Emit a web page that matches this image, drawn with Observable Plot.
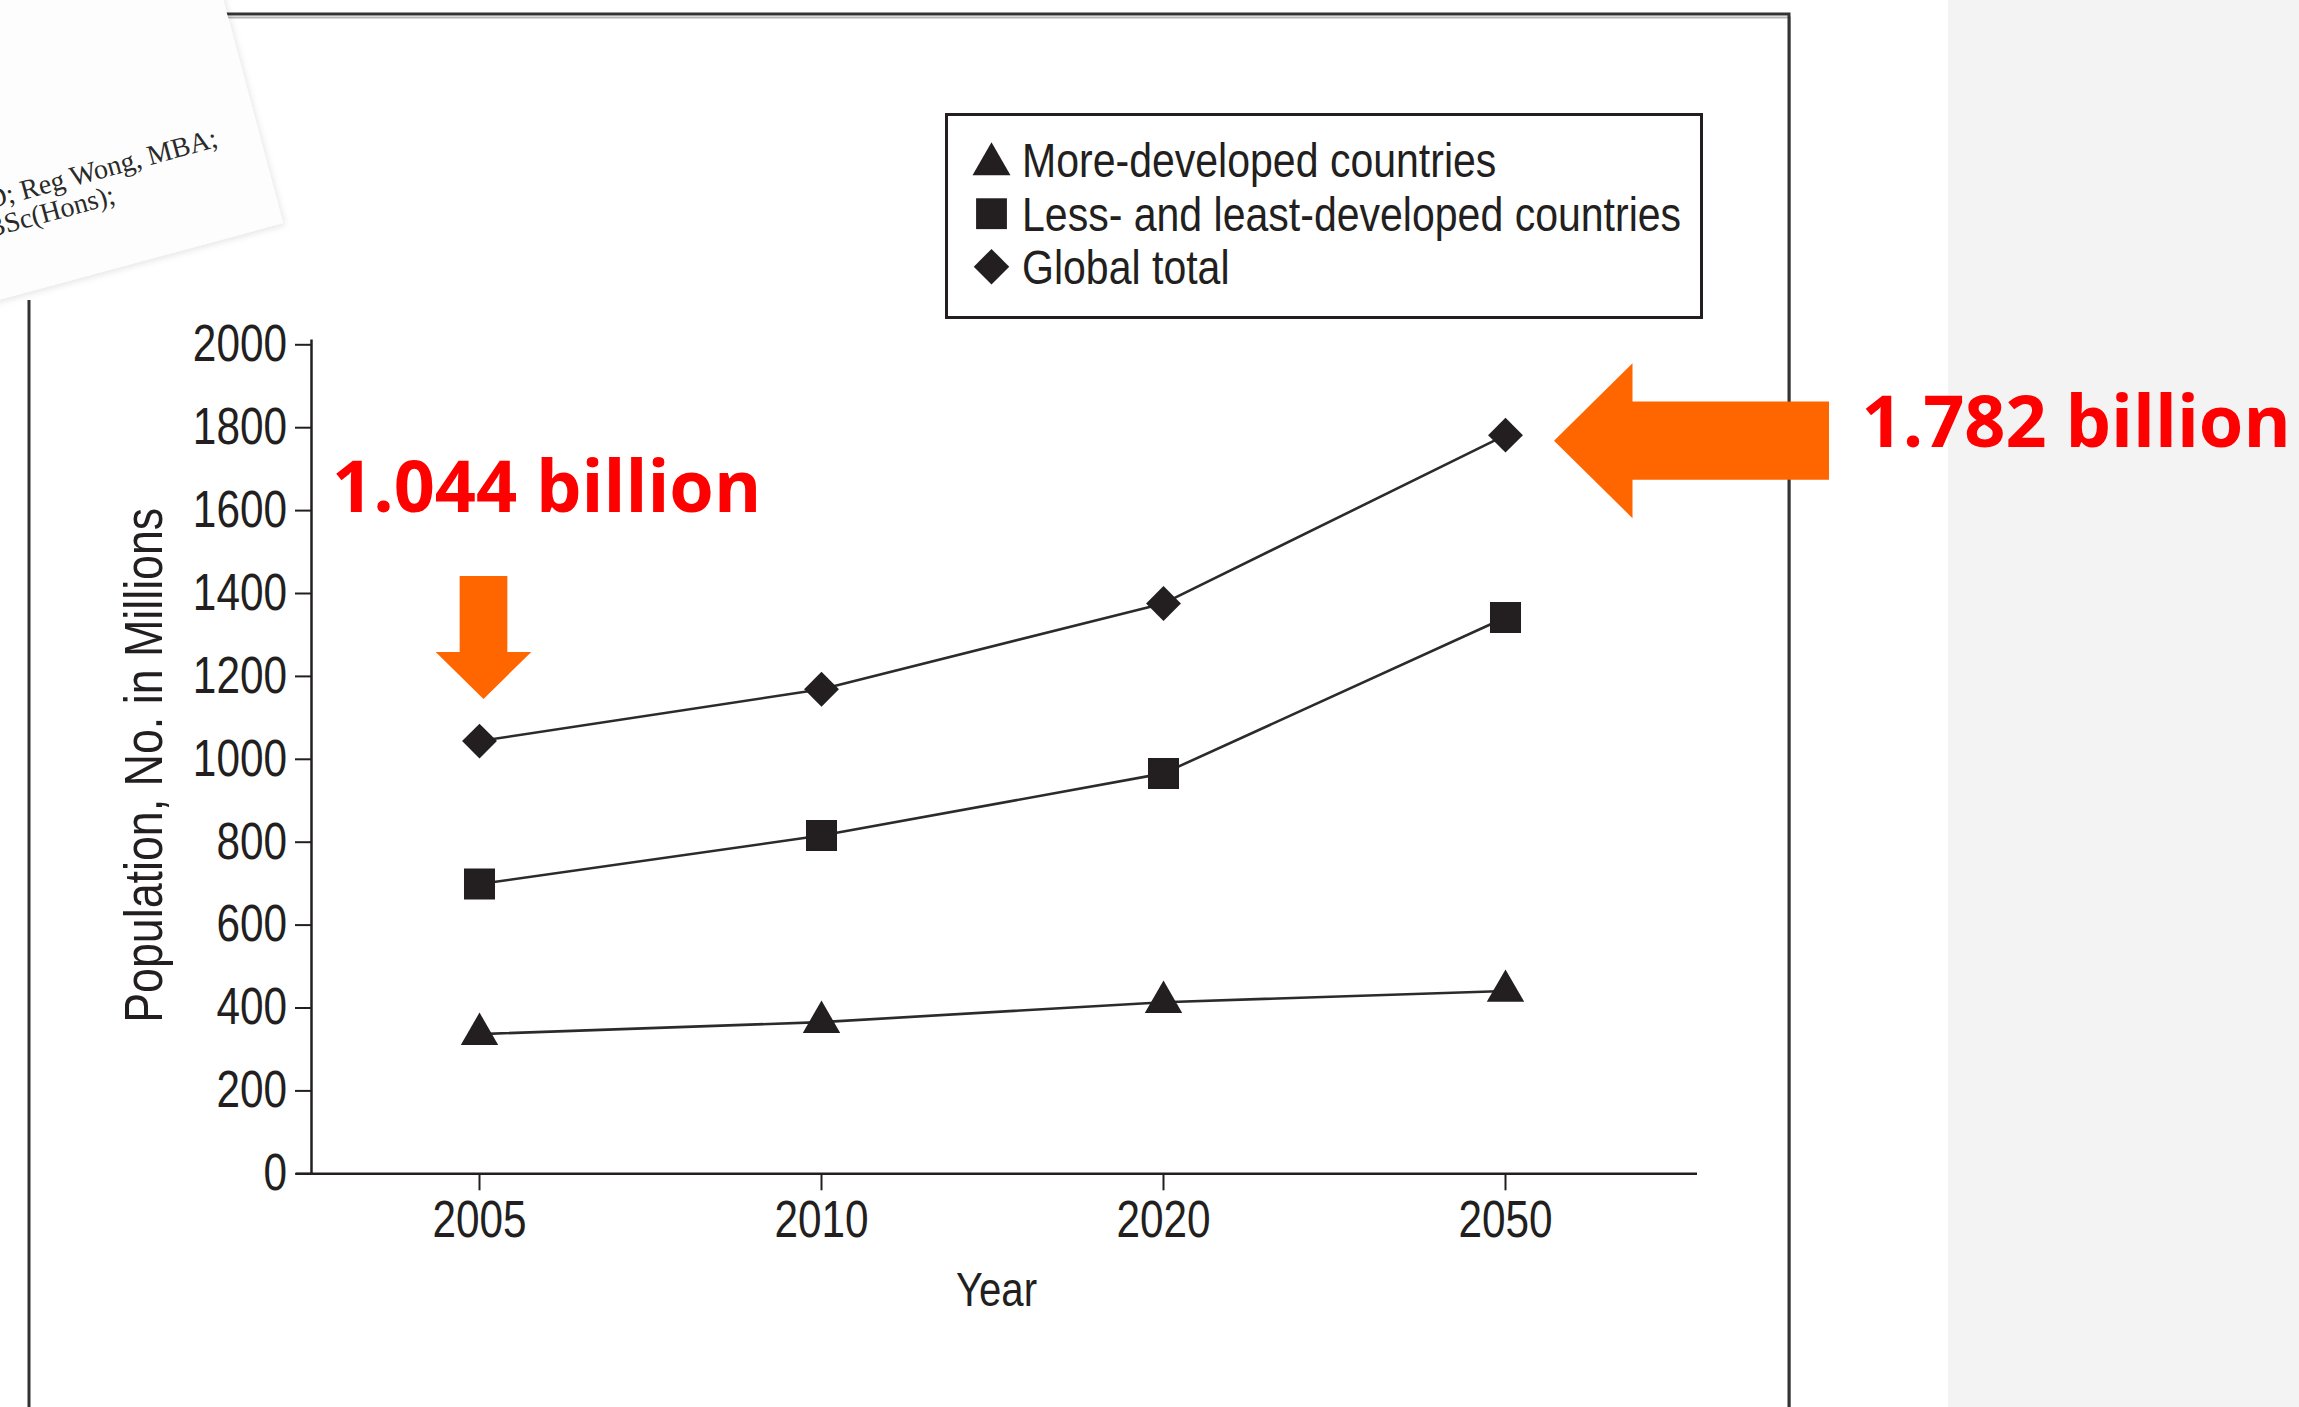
<!DOCTYPE html>
<html>
<head>
<meta charset="utf-8">
<script src="https://cdn.jsdelivr.net/npm/d3@7"></script>
<script src="https://cdn.jsdelivr.net/npm/@observablehq/plot@0.6"></script>
<style>
  html, body { margin: 0; padding: 0; width: 2299px; height: 1407px; overflow: hidden; background: #fff; }
  #stage { position: relative; width: 2299px; height: 1407px; }
  #bg, #chart, #legend { position: absolute; left: 0; top: 0; }
  #chart svg { display: block; }
</style>
</head>
<body>
<div id="stage">
  <svg id="bg" width="2299" height="1407"></svg>
  <div id="chart"></div>
  <svg id="legend" width="2299" height="1407" style="pointer-events:none"></svg>
</div>
<script>
// ---------------- data ----------------
const years = ["2005", "2010", "2020", "2050"];
const moreDeveloped = [337, 366, 414, 441];
const lessDeveloped = [699, 816, 966, 1342];
const globalTotal = [1044, 1169, 1376, 1782];
const seriesNames = ["More-developed countries", "Less- and least-developed countries", "Global total"];
const yTicks = [0, 200, 400, 600, 800, 1000, 1200, 1400, 1600, 1800, 2000];
const yLabel = "Population, No. in Millions";
const xLabel = "Year";
const callouts = ["1.044 billion", "1.782 billion"];
const snippetLines = ["D; Reg Wong, MBA;", "BSc(Hons);"];

// ---------------- styles ----------------
const ink = "#231f20";
const sansFont = "'Liberation Sans', Arial, sans-serif";
const orange = "#ff6600";
const red = "#ff0000";

const seriesValues = [moreDeveloped, lessDeveloped, globalTotal];
const symbols = ["triangle", "square", "diamond2"];
const radii = [13.9, 17.5, 15.7];

const data = [];
seriesNames.forEach((s, k) => years.forEach((yr, i) => data.push({series: s, year: yr, value: seriesValues[k][i]})));

const calloutData = [
  {year: years[0], value: globalTotal[0], label: callouts[0]},
  {year: years[3], value: globalTotal[3], label: callouts[1]}
];

// horizontal condensing of a text element around its anchor (the reference uses a condensed face)
function condense(el, k) {
  const t = el.getAttribute("transform") || "";
  const x = parseFloat(el.getAttribute("x")) || 0;
  el.setAttribute("x", 0);
  el.setAttribute("transform", `${t} translate(${x},0) scale(${k},1)`);
}

// ---------------- background page ----------------
const bg = d3.select("#bg");
bg.append("rect").attr("x", 1948).attr("y", 0).attr("width", 351).attr("height", 1407).attr("fill", "#f3f3f3");
bg.append("path").attr("d", "M224,15.5H1789V1407").attr("fill", "none").attr("stroke", "#b5b5b5").attr("stroke-width", 2).attr("transform", "translate(1,2)");
bg.append("path").attr("d", "M224,14H1789V1407").attr("fill", "none").attr("stroke", "#333").attr("stroke-width", 3);
bg.append("path").attr("d", "M29,300V1407").attr("fill", "none").attr("stroke", "#333").attr("stroke-width", 3);
const defs = bg.append("defs");
const f = defs.append("filter").attr("id", "sh").attr("x", "-20%").attr("y", "-20%").attr("width", "140%").attr("height", "140%");
f.append("feDropShadow").attr("dx", 2).attr("dy", 2).attr("stdDeviation", 3).attr("flood-color", "#000").attr("flood-opacity", 0.1);
bg.append("polygon").attr("points", "-20,-20 218,-20 283,223 -20,305").attr("fill", "#fdfdfd").attr("filter", "url(#sh)");
const snip = [[-10.8, 209.2], [-11, 238]];
snippetLines.forEach((t, i) => {
  bg.append("text").attr("x", snip[i][0]).attr("y", snip[i][1])
    .attr("transform", `rotate(-15.3 ${snip[i][0]} ${snip[i][1]})`)
    .attr("font-family", "'Liberation Serif', 'DejaVu Serif', serif").attr("font-size", 28).attr("fill", "#2a2a2a")
    .text(t);
});

// ---------------- chart ----------------
const chart = Plot.plot({
  width: 2299,
  height: 1407,
  marginLeft: 311,
  marginRight: 602,
  marginTop: 344.3,
  marginBottom: 233.7,
  style: {background: "transparent", overflow: "visible", fontFamily: sansFont, color: ink},
  x: {type: "point", domain: years, padding: 0.489, insetRight: 23.5, label: null},
  y: {domain: [0, 2000], label: null},
  marks: [
    Plot.axisY(yTicks, {tickSize: 16, tickPadding: 8.5, fontSize: 51, color: ink, strokeWidth: 2, label: null, tickFormat: d3.format("d")}),
    Plot.axisX({tickSize: 17, tickPadding: 10, fontSize: 51, color: ink, strokeWidth: 2, label: null}),
    Plot.frame({anchor: "left", stroke: ink, strokeWidth: 2.5, insetTop: -4}),
    Plot.ruleY([0], {stroke: ink, strokeWidth: 2.5, insetLeft: -15}),
    Plot.text([yLabel], {frameAnchor: "left", textAnchor: "middle", lineAnchor: "middle", rotate: -90, dx: -166, dy: 6,
      fontSize: 53, fill: ink, text: d => d}),
    Plot.text([xLabel], {frameAnchor: "bottom", textAnchor: "middle", lineAnchor: "middle", dx: -8, dy: 117,
      fontSize: 49, fill: ink, text: d => d}),
    Plot.line(data, {x: "year", y: "value", z: "series", stroke: "#2b2b2b", strokeWidth: 2.6}),
    ...seriesNames.map((s, k) => Plot.dot(data.filter(d => d.series === s), {
      x: "year", y: "value", symbol: symbols[k], r: radii[k], fill: ink, stroke: "none"
    })),
    Plot.text(calloutData.slice(0, 1), {x: "year", y: "value", text: "label", textAnchor: "start", dx: -147.5, dy: -252,
      fontSize: 72, fontWeight: "bold", fontFamily: "'Open Sans', 'DejaVu Sans', sans-serif", fill: red}),
    Plot.text(calloutData.slice(1), {x: "year", y: "value", text: "label", textAnchor: "start", dx: 356, dy: -11.7,
      fontSize: 72, fontWeight: "bold", fontFamily: "'Open Sans', 'DejaVu Sans', sans-serif", fill: red})
  ]
});
document.getElementById("chart").appendChild(chart);

// condense the axis texts and axis titles
d3.select(chart).selectAll("g[aria-label='y-axis tick label'] text, g[aria-label='x-axis tick label'] text").each(function() { condense(this, 0.83); });
d3.select(chart).selectAll("text").each(function() {
  if (this.textContent === yLabel) condense(this, 0.845);
  else if (this.textContent === xLabel) condense(this, 0.82);
});

// block arrows anchored on the annotated data points (through the plot's scales)
const sx = chart.scale("x"), sy = chart.scale("y");
const svg = d3.select(chart);
{
  const tx = sx.apply(years[0]) + 4.5, ty = sy.apply(globalTotal[0]) - 41.6;
  const pts = [[tx - 23.85, ty - 123], [tx + 23.85, ty - 123], [tx + 23.85, ty - 47], [tx + 47.8, ty - 47],
               [tx, ty], [tx - 47.8, ty - 47], [tx - 23.85, ty - 47]];
  svg.append("polygon").attr("points", pts.map(p => p.join(",")).join(" ")).attr("fill", orange);
}
{
  const tx = sx.apply(years[3]) + 49, ty = sy.apply(globalTotal[3]) + 6;
  const pts = [[tx, ty], [tx + 78.5, ty - 77.5], [tx + 78.5, ty - 39.2], [tx + 275, ty - 39.2],
               [tx + 275, ty + 39.2], [tx + 78.5, ty + 39.2], [tx + 78.5, ty + 77.5]];
  svg.append("polygon").attr("points", pts.map(p => p.join(",")).join(" ")).attr("fill", orange);
}

// ---------------- legend ----------------
const lg = d3.select("#legend");
lg.append("rect").attr("x", 946.5).attr("y", 114.5).attr("width", 755).attr("height", 203)
  .attr("fill", "#fff").attr("stroke", ink).attr("stroke-width", 3);
const symMap = {triangle: d3.symbolTriangle, square: d3.symbolSquare, diamond2: d3.symbolDiamond2};
const legendSymY = [164.3, 213.7, 266.7];
const legendBase = [177, 230.5, 284];
const legendR = [14.1, 17.4, 16];
seriesNames.forEach((s, k) => {
  lg.append("path")
    .attr("d", d3.symbol(symMap[symbols[k]], Math.PI * legendR[k] * legendR[k])())
    .attr("transform", `translate(991.5,${legendSymY[k]})`)
    .attr("fill", ink);
  lg.append("text").attr("x", 0).attr("y", 0)
    .attr("transform", `translate(1022,${legendBase[k]}) scale(0.855,1)`)
    .attr("font-family", sansFont).attr("font-size", 48).attr("fill", ink).text(s);
});
</script>
</body>
</html>
